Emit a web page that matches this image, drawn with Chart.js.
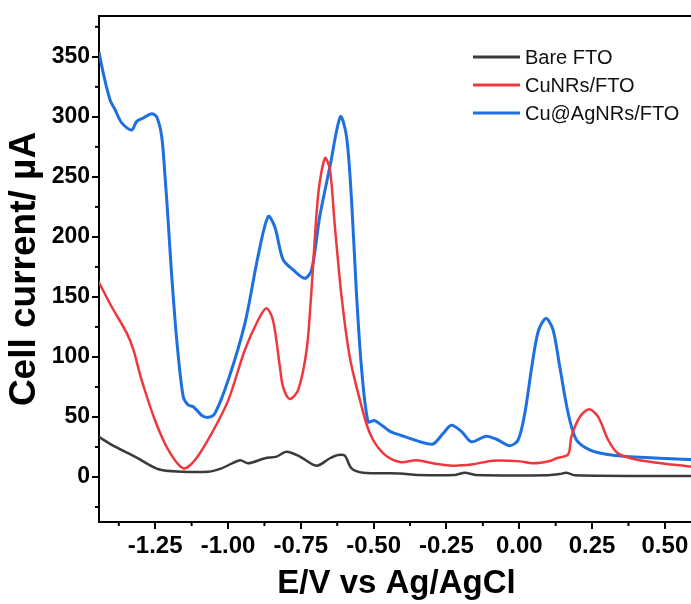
<!DOCTYPE html>
<html>
<head>
<meta charset="utf-8">
<script src="https://cdn.jsdelivr.net/npm/chart.js@4.4.1/dist/chart.umd.min.js"></script>
<style>
  html, body { margin: 0; padding: 0; background: #ffffff; overflow: hidden; }
  #wrap { width: 696px; height: 604px; }
</style>
</head>
<body>
<div id="wrap"><canvas id="cv" width="696" height="604"></canvas></div>
<script>
// potencial (V vs Ag/AgCl) e corrente (µA)
const bareE = [-1.445, -1.388, -1.32, -1.239, -1.159, -1.068, -1.022, -0.959, -0.931, -0.873, -0.833, -0.799,
  -0.753, -0.696, -0.65, -0.622, -0.599, -0.576, -0.536, -0.41, -0.347, -0.22, -0.187, -0.15, 0.1, 0.14, 0.162, 0.19, 0.6];
const bareI = [33.6, 25.3, 17, 6.4, 4.4, 4.4, 7.2, 14, 11.4, 15.6, 17, 21,
  17, 9.4, 15.6, 18.3, 17.8, 7.2, 3.6, 3, 1.7, 1.7, 3.6, 1.7, 1.5, 2.5, 3.6, 1.5, 0.8];

const cuE = [-1.445, -1.4, -1.348, -1.325, -1.297, -1.251, -1.205, -1.154, -1.114, -1.056, -0.999, -0.942, -0.896,
  -0.868, -0.845, -0.822, -0.811, -0.788, -0.759, -0.73, -0.715, -0.69, -0.667, -0.65, -0.633, -0.61, -0.582,
  -0.547, -0.513, -0.467, -0.41, -0.353, -0.296, -0.227, -0.159, -0.09, 0.002, 0.047, 0.105, 0.128, 0.168,
  0.179, 0.208, 0.24, 0.271, 0.305, 0.339, 0.414, 0.6];
const cuI = [163, 142, 120, 106, 81, 47.5, 22.5, 7.2, 14, 36.4, 64, 106, 131,
  140.6, 130, 92, 75, 65, 72.5, 106, 150, 236, 265.6, 256, 208.6, 150, 100,
  64, 36.4, 19.7, 12.5, 14, 11.4, 9.4, 10.6, 13.6, 13, 11.4, 13.3, 15.6, 19,
  33.6, 50, 56.4, 50, 31, 19.7, 14, 8.3];

const agE = [-1.443, -1.428, -1.405, -1.388, -1.365, -1.331, -1.314, -1.291, -1.262, -1.245, -1.228, -1.217,
  -1.205, -1.194, -1.176, -1.154, -1.137, -1.119, -1.091, -1.068, -1.045, -0.999, -0.942, -0.896, -0.862,
  -0.839, -0.811, -0.776, -0.736, -0.713, -0.685, -0.65, -0.614, -0.593, -0.576, -0.559, -0.542, -0.519,
  -0.496, -0.444, -0.41, -0.341, -0.296, -0.261, -0.233, -0.198, -0.164, -0.113, -0.073, -0.033, -0.004,
  0.019, 0.045, 0.066, 0.092, 0.116, 0.139, 0.168, 0.196, 0.242, 0.299, 0.414, 0.6];
const agI = [354, 336, 314, 306, 295, 289, 296, 299, 302.5, 300, 284, 253,
  211, 170, 114, 67, 60, 58.5, 51.5, 49.7, 53, 81, 128, 185, 217,
  208, 181, 172.5, 165.5, 172.5, 217, 258.5, 300, 283.5, 231, 153, 92, 46,
  47, 38, 35, 29.4, 27.5, 36.4, 43, 37.8, 29.4, 34, 30.8, 26, 30.8,
  53, 95, 122, 132, 122.5, 92, 53, 31, 22.5, 19, 16.4, 14.5];

const seriesNames = ['Bare FTO', 'CuNRs/FTO', 'Cu@AgNRs/FTO'];
const xTicks = [-1.25, -1.0, -0.75, -0.5, -0.25, 0, 0.25, 0.5];
const xMinor = [-1.375, -1.125, -0.875, -0.625, -0.375, -0.125, 0.125, 0.375];
const yTicks = [0, 50, 100, 150, 200, 250, 300, 350];
const yMinor = [-25, 25, 75, 125, 175, 225, 275, 325, 375];

const toPts = (xs, ys) => xs.map((x, i) => ({ x: x, y: ys[i] }));

// ticks menores e moldura superior
const framePlugin = {
  id: 'frame',
  afterDraw(chart) {
    const { ctx, chartArea, scales } = chart;
    ctx.save();
    ctx.strokeStyle = '#000';
    ctx.lineWidth = 2;
    ctx.beginPath();
    ctx.moveTo(chartArea.left, chartArea.top);
    ctx.lineTo(chartArea.right, chartArea.top);
    ctx.lineTo(chartArea.right, chartArea.bottom);
    ctx.stroke();
    xMinor.forEach(v => {
      const px = scales.x.getPixelForValue(v);
      ctx.beginPath();
      ctx.moveTo(px, chartArea.bottom);
      ctx.lineTo(px, chartArea.bottom + 4);
      ctx.stroke();
    });
    yMinor.forEach(v => {
      const py = scales.y.getPixelForValue(v);
      ctx.beginPath();
      ctx.moveTo(chartArea.left, py);
      ctx.lineTo(chartArea.left - 4, py);
      ctx.stroke();
    });
    ctx.restore();
  }
};

// legenda desenhada à mão no canto superior direito
const legendPlugin = {
  id: 'myLegend',
  afterDraw(chart) {
    const ctx = chart.ctx;
    ctx.save();
    ctx.font = '20px "Liberation Sans", Arial, sans-serif';
    ctx.textBaseline = 'middle';
    ctx.textAlign = 'left';
    chart.data.datasets.forEach((ds, i) => {
      const y = 57 + i * 28;
      ctx.strokeStyle = ds.borderColor;
      ctx.lineWidth = 3;
      ctx.beginPath();
      ctx.moveTo(473, y);
      ctx.lineTo(520, y);
      ctx.stroke();
      ctx.fillStyle = '#111';
      ctx.fillText(ds.label, 525, y + 1);
    });
    ctx.restore();
  }
};

const tickFont = { family: '"Liberation Sans", Arial, sans-serif', weight: 'bold' };

new Chart(document.getElementById('cv').getContext('2d'), {
  type: 'line',
  data: {
    datasets: [
      { label: seriesNames[0], data: toPts(bareE, bareI), borderColor: '#3a3a3a', borderWidth: 2.5 },
      { label: seriesNames[1], data: toPts(cuE, cuI), borderColor: '#f0383c', borderWidth: 2.5 },
      { label: seriesNames[2], data: toPts(agE, agI), borderColor: '#1e6fe0', borderWidth: 3 }
    ]
  },
  options: {
    responsive: false,
    animation: false,
    elements: {
      point: { radius: 0 },
      line: { tension: 0.3, fill: false, capBezierPoints: true }
    },
    layout: { padding: { top: 16, right: 2, left: 0, bottom: 0 } },
    plugins: {
      legend: { display: false },
      tooltip: { enabled: false }
    },
    scales: {
      x: {
        type: 'linear',
        min: -1.443,
        max: 0.6,
        afterBuildTicks: s => { s.ticks = xTicks.map(v => ({ value: v })); },
        afterFit: s => { s.height = 82; },
        ticks: {
          color: '#000',
          font: { ...tickFont, size: 24 },
          padding: 3,
          maxRotation: 0,
          autoSkip: false,
          callback: v => v.toFixed(2)
        },
        grid: { drawOnChartArea: false, drawTicks: true, tickLength: 7, color: '#000', lineWidth: 2 },
        border: { display: true, color: '#000', width: 2 },
        title: {
          display: true,
          text: 'E/V vs Ag/AgCl',
          color: '#000',
          font: { ...tickFont, size: 33 },
          padding: { top: 0, bottom: 0 }
        }
      },
      y: {
        type: 'linear',
        min: -37.5,
        max: 384,
        afterBuildTicks: s => { s.ticks = yTicks.map(v => ({ value: v })); },
        afterFit: s => { s.width = 99; },
        ticks: {
          color: '#000',
          font: { ...tickFont, size: 23 },
          padding: 2,
          autoSkip: false
        },
        grid: { drawOnChartArea: false, drawTicks: true, tickLength: 7, color: '#000', lineWidth: 2 },
        border: { display: true, color: '#000', width: 2 },
        title: {
          display: true,
          text: 'Cell current/ µA',
          color: '#000',
          font: { ...tickFont, size: 37 },
          padding: { top: 3, bottom: 0 }
        }
      }
    }
  },
  plugins: [framePlugin, legendPlugin]
});
</script>
</body>
</html>
